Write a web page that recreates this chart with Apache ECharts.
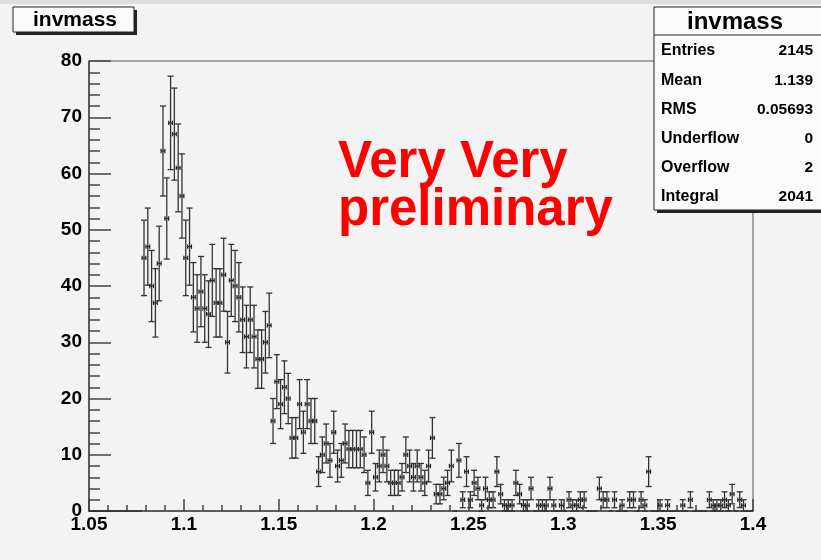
<!DOCTYPE html>
<html>
<head>
<meta charset="utf-8">
<script src="https://cdn.jsdelivr.net/npm/echarts@6/dist/echarts.min.js"></script>
<style>
  html, body { margin: 0; padding: 0; background: #f3f3f3; }
  #chart { width: 821px; height: 560px; }
</style>
</head>
<body>
<div id="chart"></div>
<script>
// Histogram "invmass": 175 bins of width 0.002 between 1.05 and 1.4
const binStart = 1.05;
const binWidth = 0.002;
const counts = [
  0,0,0,0,0,0,0,0,0,0,0,0,0,0,
  45,47,40,37,44,64,52,69,67,61,56,45,47,
  38,36,39,36,35,41,37,37,42,30,41,40,38,34,31,34,31,27,27,30,33,
  16,23,19,22,20,13,13,19,14,19,16,16,7,10,
  12,9,14,8,9,12,11,11,11,11,
  10,5,14,6,8,10,8,5,5,5,6,10,8,6,8,6,5,8,13,3,3,4,5,8,
  0,9,2,7,2,5,4,1,4,2,2,7,3,
  1,1,1,5,3,1,1,4,0,1,1,1,4,1,0,1,0,2,1,1,2,2,0,0,0,4,2,2,0,2,0,
  1,0,2,2,0,2,1,7,0,0,1,0,1,0,0,0,1,0,2,0,0,0,0,2,1,1,1,2,1,3,0,2,1,0,0
];

// Axis ticks
const xTicks = ['1.05','1.1','1.15','1.2','1.25','1.3','1.35','1.4'];
const yTicks = [0,10,20,30,40,50,60,70,80];

// Statistics panel
const statsTitle = 'invmass';
const statNames  = ['Entries','Mean','RMS','Underflow','Overflow','Integral'];
const statValues = ['2145','1.139','0.05693','0','2','2041'];
const histTitle = 'invmass';
const noteLines = ['Very Very', 'preliminary'];

// bin center, content, poisson error
const points = counts.map((c, i) => [binStart + (i + 0.5) * binWidth, c, Math.sqrt(c)]);

const FONT = '"Liberation Sans", Arial, Helvetica, sans-serif';
const chart = echarts.init(document.getElementById('chart'), null, { renderer: 'canvas' });

function renderBin(params, api) {
  const x = api.value(0), y = api.value(1), e = api.value(2);
  const c = api.coord([x, y]);
  const l = api.coord([x - binWidth / 2, y]);
  const r = api.coord([x + binWidth / 2, y]);
  const style = { stroke: '#222', lineWidth: 1.2 };
  const bar = { stroke: '#333', lineWidth: 1.3 };
  const children = [
    { type: 'line', shape: { x1: l[0], y1: c[1], x2: r[0], y2: c[1] }, style }
  ];
  if (y > 0) {
    const lo = api.coord([x, y - e]);
    const hi = api.coord([x, y + e]);
    const cw = 3, hw = 2.2;
    children.push(
      { type: 'line', shape: { x1: c[0], y1: lo[1], x2: c[0], y2: hi[1] }, style: bar },
      { type: 'line', shape: { x1: c[0] - cw, y1: lo[1], x2: c[0] + cw, y2: lo[1] }, style: bar },
      { type: 'line', shape: { x1: c[0] - cw, y1: hi[1], x2: c[0] + cw, y2: hi[1] }, style: bar },
      { type: 'line', shape: { x1: l[0], y1: c[1] - hw, x2: l[0], y2: c[1] + hw }, style },
      { type: 'line', shape: { x1: r[0], y1: c[1] - hw, x2: r[0], y2: c[1] + hw }, style }
    );
  }
  return { type: 'group', children };
}

const statRowY = [51, 81, 110, 139, 168, 197];
const statsGraphics = [];
statNames.forEach((n, k) => {
  statsGraphics.push({
    type: 'text', x: 661, y: statRowY[k], z: 12,
    style: { text: n, font: 'bold 16px ' + FONT, fill: '#000', align: 'left', verticalAlign: 'middle' }
  });
  statsGraphics.push({
    type: 'text', x: 813, y: statRowY[k], z: 12,
    style: { text: statValues[k], font: 'bold 15.5px ' + FONT, fill: '#000', align: 'right', verticalAlign: 'middle' }
  });
});

const option = {
  backgroundColor: '#f3f3f3',
  animation: false,
  grid: { left: 89, right: 68, top: 61, bottom: 49, show: true, borderColor: '#555', borderWidth: 1, backgroundColor: '#f3f3f3' },
  xAxis: {
    type: 'value', min: 1.05, max: 1.4, interval: 0.05,
    axisLine: { onZero: false, lineStyle: { color: '#444', width: 1.5 } },
    axisTick: { inside: true, length: 12, lineStyle: { color: '#444', width: 1.5 } },
    minorTick: { show: true, splitNumber: 5, length: 6, lineStyle: { color: '#444', width: 1.5 } },
    splitLine: { show: false },
    axisLabel: {
      margin: 4, color: '#000', fontFamily: FONT, fontWeight: 'bold', fontSize: 19,
      formatter: v => xTicks.find(t => Math.abs(parseFloat(t) - v) < 1e-6) || ''
    }
  },
  yAxis: {
    type: 'value', min: 0, max: 80, interval: 10,
    axisLine: { show: true, lineStyle: { color: '#444', width: 1.5 } },
    axisTick: { inside: true, length: 22, lineStyle: { color: '#444', width: 1.5 } },
    minorTick: { show: true, splitNumber: 5, length: 11, lineStyle: { color: '#444', width: 1.5 } },
    splitLine: { show: false },
    axisLabel: {
      margin: 7, color: '#000', fontFamily: FONT, fontWeight: 'bold', fontSize: 19,
      formatter: v => (yTicks.indexOf(v) >= 0 ? String(v) : '')
    }
  },
  series: [{
    type: 'custom',
    renderItem: renderBin,
    encode: { x: 0, y: 1 },
    data: points,
    clip: false
  }],
  graphic: [
    // thin band along the top edge
    { type: 'rect', x: 0, y: 0, shape: { width: 821, height: 4 }, style: { fill: '#dedede' }, z: 1 },
    // histogram title box with shadow
    { type: 'rect', x: 16, y: 10, shape: { width: 121, height: 25 }, style: { fill: '#222' }, z: 10 },
    { type: 'rect', x: 13, y: 7, shape: { width: 121, height: 25 }, style: { fill: '#fbfbfb', stroke: '#222', lineWidth: 1 }, z: 11 },
    { type: 'text', x: 75, y: 20, z: 12, style: { text: histTitle, font: 'bold 21px ' + FONT, fill: '#000', align: 'center', verticalAlign: 'middle' } },
    // statistics box with shadow
    { type: 'rect', x: 657, y: 10, shape: { width: 170, height: 203 }, style: { fill: '#222' }, z: 10 },
    { type: 'rect', x: 654, y: 7, shape: { width: 170, height: 203 }, style: { fill: '#fbfbfb', stroke: '#222', lineWidth: 1 }, z: 11 },
    { type: 'line', shape: { x1: 654, y1: 35, x2: 821, y2: 35 }, style: { stroke: '#222', lineWidth: 1 }, z: 12 },
    { type: 'text', x: 735, y: 22, z: 12, style: { text: statsTitle, font: 'bold 24px ' + FONT, fill: '#000', align: 'center', verticalAlign: 'middle' } },
    ...statsGraphics,
    // red note
    { type: 'text', x: 338, y: 188, z: 12, style: { text: noteLines[0], font: 'bold 51px ' + FONT, fill: '#ff0000', align: 'left', verticalAlign: 'bottom' } },
    { type: 'text', x: 338, y: 236, z: 12, style: { text: noteLines[1], font: 'bold 51px ' + FONT, fill: '#ff0000', align: 'left', verticalAlign: 'bottom' } }
  ]
};
chart.setOption(option);
</script>
</body>
</html>
